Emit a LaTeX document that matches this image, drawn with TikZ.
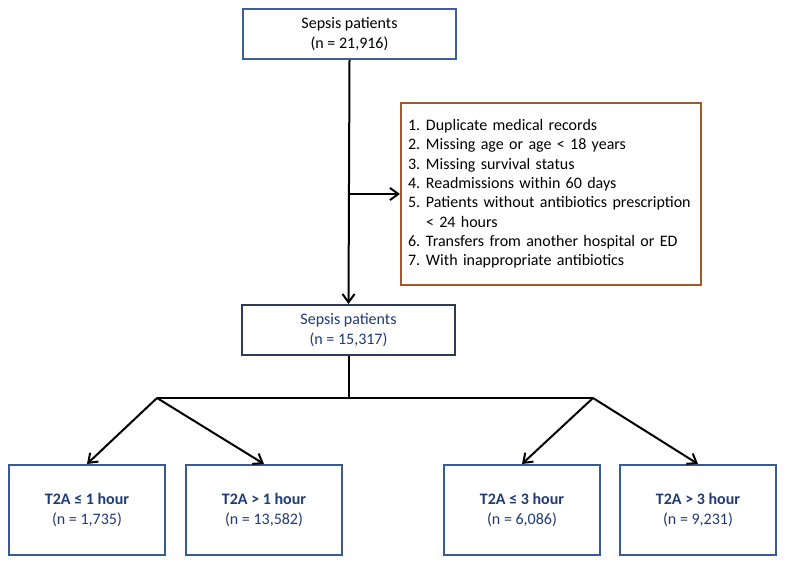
\documentclass[tikz,border=0pt]{standalone}
\usepackage{fontspec}
\setmainfont{Carlito}
\usepackage{xcolor}
\usepackage{tikz}
\usetikzlibrary{arrows.meta,positioning}
\definecolor{topline}{HTML}{3F5E9A}
\definecolor{midline}{HTML}{2E3B55}
\definecolor{groupline}{HTML}{3A5A96}
\definecolor{exclline}{HTML}{A5582A}
\definecolor{navytext}{HTML}{1F3A78}
\tikzset{
  countbox/.style={
    draw=topline,
    line width=1.5pt,
    fill=white,
    align=center,
    font=\fontsize{12}{14.5}\selectfont,
    inner sep=0pt,
    minimum width=159.75pt,
    minimum height=37.5pt
  },
  remainbox/.style={draw=midline, text=navytext},
  exclbox/.style={
    draw=exclline,
    line width=1.5pt,
    fill=white,
    align=left,
    font=\fontsize{12}{14.5}\selectfont,
    inner xsep=5.25pt,
    inner ysep=0pt,
    text width=214.5pt,
    minimum height=136.5pt
  },
  groupbox/.style={
    draw=groupline,
    line width=1.5pt,
    fill=white,
    align=center,
    text=navytext,
    font=\fontsize{12}{14.5}\selectfont,
    inner sep=0pt,
    minimum width=117pt,
    minimum height=67.5pt
  },
  flowedge/.style={line width=1.5pt, draw=black, -{Straight Barb[length=2.2mm,width=3.2mm]}},
  plainedge/.style={line width=1.5pt, draw=black}
}
\newcommand{\exclitem}[2]{\makebox[13.5pt][l]{#1}#2}

\begin{document}
\begin{tikzpicture}[x=0.75pt,y=-0.75pt]
\path[use as bounding box] (0,0) rectangle (787,566);
\fill[white] (0,0) rectangle (787,566);

\node[countbox] (all) at (349.5,34) {Sepsis patients\\(n = 21,916)};
\node[countbox, remainbox] (kept) at (348.5,330) {Sepsis patients\\(n = 15,317)};
\node[exclbox] (excl) at (551,194) {%
\exclitem{1.}{Duplicate medical records}\\
\exclitem{2.}{Missing age or age < 18 years}\\
\exclitem{3.}{Missing survival status}\\
\exclitem{4.}{Readmissions within 60 days}\\
\exclitem{5.}{Patients without antibiotics prescription}\\
\exclitem{}{< 24 hours}\\
\exclitem{6.}{Transfers from another hospital or ED}\\
\exclitem{7.}{With inappropriate antibiotics}};

\node[groupbox] (le1) at (87,510) {\textbf{T2A ≤ 1 hour}\\(n = 1,735)};
\node[groupbox] (gt1) at (264,510) {\textbf{T2A > 1 hour}\\(n = 13,582)};
\node[groupbox] (le3) at (522,510) {\textbf{T2A ≤ 3 hour}\\(n = 6,086)};
\node[groupbox] (gt3) at (698,510) {\textbf{T2A > 3 hour}\\(n = 9,231)};

\coordinate (exclpt) at (all.south |- excl.west);
\coordinate (split) at (kept.south |- 0,398);
\coordinate (splitL) at (157,398);
\coordinate (splitR) at (593,398);

\draw[flowedge] (all.south) -- (kept.north);
\draw[flowedge] (exclpt) -- (excl.west);
\draw[plainedge] (kept.south) -- (split);
\draw[plainedge] (splitL) -- (splitR);
\draw[flowedge] (splitL) -- (le1.north);
\draw[flowedge] (splitL) -- (gt1.north);
\draw[flowedge] (splitR) -- (le3.north);
\draw[flowedge] (splitR) -- (gt3.north);

\end{tikzpicture}
\end{document}
